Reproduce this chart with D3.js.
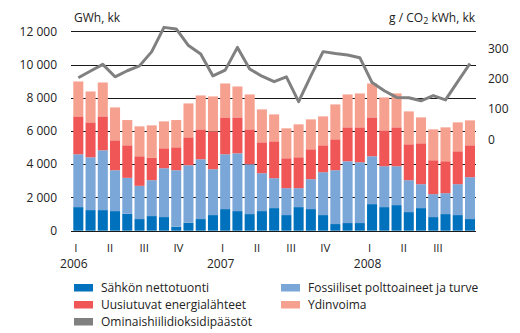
<!DOCTYPE html>
<html>
<head>
<meta charset="utf-8">
<script src="https://cdn.jsdelivr.net/npm/d3@7"></script>
<style>
  body { margin: 0; background: #fff; }
  text { font-family: "Open Sans", sans-serif; fill: #222; }
</style>
</head>
<body>
<div id="chart"></div>
<script>
// Monthly electricity supply (GWh) and specific CO2 emissions, 1/2006 - 9/2008
var tuonti    = [1420, 1240, 1240, 1180, 1020, 700, 880, 820, 240, 480, 700, 940,
                 1300, 1180, 1000, 1180, 1360, 940, 1420, 1300, 940, 400, 460, 460,
                 1600, 1420, 1540, 1120, 1360, 820, 1000, 940, 700];
var fossiili  = [3180, 3180, 3600, 2460, 2160, 2000, 2160, 2940, 3400, 3460, 3600, 2760,
                 3300, 3480, 3000, 2280, 1800, 1620, 1140, 1800, 2580, 3240, 3720, 3660,
                 2880, 2460, 2340, 1920, 1440, 1380, 1260, 1860, 2520];
var uusiutuva = [2280, 2100, 2040, 1800, 1960, 1780, 1340, 1200, 1380, 1680, 1800, 2280,
                 2220, 2160, 2100, 1860, 2220, 1800, 1860, 1800, 1620, 1860, 2040, 2100,
                 2340, 2160, 2340, 2160, 2460, 2040, 1920, 1980, 1920];
var ydinvoima = [2100, 1860, 2040, 1980, 1520, 1800, 1960, 1620, 1640, 2040, 2040, 2100,
                 2040, 1860, 2100, 1980, 1620, 1800, 1980, 1800, 1740, 2100, 1980, 2040,
                 2040, 1980, 2040, 1980, 1560, 1860, 2040, 1740, 1500];
var co2       = [203, 225, 247, 206, 226, 242, 289, 369, 364, 309, 281, 209,
                 228, 303, 232, 208, 190, 206, 124, 209, 289, 283, 278, 269,
                 187, 160, 138, 137, 127, 144, 130, 190, 250];

var quarterLabels = ["I", "II", "III", "IV"];
var years = ["2006", "2007", "2008"];
var leftTicks = [0, 2000, 4000, 6000, 8000, 10000, 12000];
var rightTicks = [0, 100, 200, 300];

var seriesKeys = ["tuonti", "fossiili", "uusiutuva", "ydinvoima"];
var seriesNames = {
  tuonti: "Sähkön nettotuonti",
  fossiili: "Fossiiliset polttoaineet ja turve",
  uusiutuva: "Uusiutuvat energialähteet",
  ydinvoima: "Ydinvoima",
  co2: "Ominaishiilidioksidipäästöt"
};
var colors = {
  tuonti: "#0071bc",
  fossiili: "#7ba7d8",
  uusiutuva: "#f05656",
  ydinvoima: "#f6a18f",
  co2: "#808080"
};

var svgWidth = 520;
var svgHeight = 333;

var svg = d3.select("#chart")
  .append("svg")
  .attr("width", svgWidth)
  .attr("height", svgHeight);

// rows for the stack
var rows = tuonti.map(function(d, i) {
  return { i: i, tuonti: d, fossiili: fossiili[i], uusiutuva: uusiutuva[i], ydinvoima: ydinvoima[i] };
});

var x = d3.scaleBand()
  .domain(d3.range(rows.length))
  .range([72.2, 476.1])
  .paddingInner(0.18)
  .paddingOuter(0.09);

var y = d3.scaleLinear().domain([0, 12000]).range([230.7, 31.3]);
var yRight = d3.scaleLinear().domain([0, 300]).range([139.3, 48.3]);

var fmt = d3.formatLocale({ decimal: ",", thousands: " ", grouping: [3], currency: ["", " €"] }).format(",d");

// gridlines
svg.append("g")
  .selectAll("line")
  .data(leftTicks)
  .enter()
  .append("line")
  .attr("x1", 71)
  .attr("x2", 476)
  .attr("y1", d => Math.round(y(d)) + 0.5)
  .attr("y2", d => Math.round(y(d)) + 0.5)
  .attr("stroke", "#1a1a1a")
  .attr("stroke-width", 1);

// left axis labels
svg.append("g")
  .selectAll("text")
  .data(leftTicks)
  .enter()
  .append("text")
  .attr("x", 57)
  .attr("y", d => y(d))
  .attr("dy", "0.35em")
  .attr("text-anchor", "end")
  .style("font-size", "12px")
  .text(d => fmt(d));

// right axis labels
svg.append("g")
  .selectAll("text")
  .data(rightTicks)
  .enter()
  .append("text")
  .attr("x", 488)
  .attr("y", d => yRight(d))
  .attr("dy", "0.35em")
  .style("font-size", "12px")
  .text(d => d);

// unit titles
svg.append("text")
  .attr("x", 74)
  .attr("y", 21.5)
  .style("font-size", "12px")
  .text("GWh, kk");

var unitRight = svg.append("text")
  .attr("x", 475)
  .attr("y", 21.5)
  .attr("text-anchor", "end")
  .style("font-size", "12px");
unitRight.append("tspan").text("g / CO");
unitRight.append("tspan").attr("dy", 2).style("font-size", "9px").text("2");
unitRight.append("tspan").attr("dy", -2).text(" kWh, kk");

// stacked bars
var stacked = d3.stack().keys(seriesKeys)(rows);

svg.append("g")
  .selectAll("g")
  .data(stacked)
  .enter()
  .append("g")
  .attr("fill", d => colors[d.key])
  .selectAll("rect")
  .data(d => d)
  .enter()
  .append("rect")
  .attr("x", d => x(d.data.i))
  .attr("width", x.bandwidth())
  .attr("y", d => y(d[1]))
  .attr("height", d => y(d[0]) - y(d[1]));

// baseline over the bars
svg.append("line")
  .attr("x1", 71)
  .attr("x2", 476)
  .attr("y1", Math.round(y(0)) + 0.5)
  .attr("y2", Math.round(y(0)) + 0.5)
  .attr("stroke", "#1a1a1a");

// CO2 line
var line = d3.line()
  .x((d, i) => x(i) + x.bandwidth() / 2)
  .y(d => yRight(d));

svg.append("path")
  .datum(co2)
  .attr("fill", "none")
  .attr("stroke", colors.co2)
  .attr("stroke-width", 3)
  .attr("stroke-linejoin", "round")
  .attr("d", line);

// quarter and year labels
var quarters = d3.range(0, rows.length, 3);
svg.append("g")
  .selectAll("text")
  .data(quarters)
  .enter()
  .append("text")
  .attr("x", d => x(d) + 2.5 - 2.5 * ((d / 3) % 4))
  .attr("y", 251.5)
  .attr("text-anchor", "middle")
  .style("font-size", "11.5px")
  .text(d => quarterLabels[(d / 3) % 4]);

svg.append("g")
  .selectAll("text")
  .data(years)
  .enter()
  .append("text")
  .attr("x", (d, i) => x(i * 12) + 0.5)
  .attr("y", 267.5)
  .attr("text-anchor", "middle")
  .style("font-size", "12px")
  .text(d => d);

// legend
var legendItems = [
  { key: "tuonti", col: 0, row: 0 },
  { key: "fossiili", col: 1, row: 0 },
  { key: "uusiutuva", col: 0, row: 1 },
  { key: "ydinvoima", col: 1, row: 1 },
  { key: "co2", col: 0, row: 2 }
];

var legend = svg.append("g")
  .selectAll("g")
  .data(legendItems)
  .enter()
  .append("g")
  .attr("transform", d => `translate(${d.col ? 281 : 74}, ${284 + d.row * 17})`);

legend.append("rect")
  .attr("width", 19)
  .attr("height", 7.5)
  .attr("fill", d => colors[d.key]);

legend.append("text")
  .attr("x", 27)
  .attr("y", 4)
  .attr("dy", "0.35em")
  .style("font-size", "12px")
  .text(d => seriesNames[d.key]);
</script>
</body>
</html>
